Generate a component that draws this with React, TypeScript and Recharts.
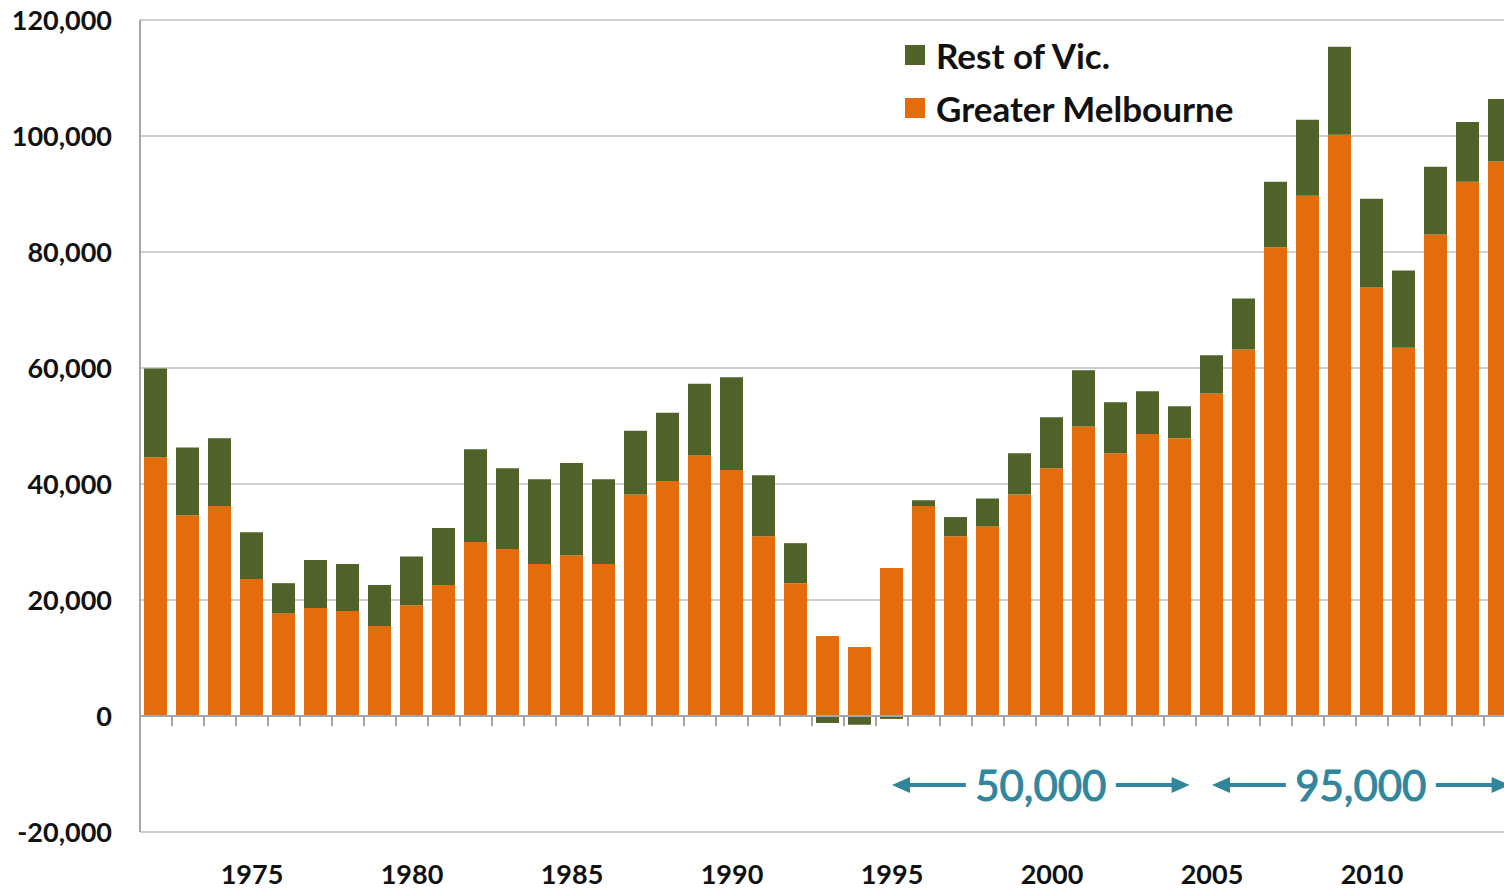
import React from 'react';
import { BarChart, Bar, XAxis, YAxis, CartesianGrid, Legend, ReferenceLine } from 'recharts';

const years = [
  1972, 1973, 1974, 1975, 1976, 1977, 1978, 1979, 1980, 1981,
  1982, 1983, 1984, 1985, 1986, 1987, 1988, 1989, 1990, 1991,
  1992, 1993, 1994, 1995, 1996, 1997, 1998, 1999, 2000, 2001,
  2002, 2003, 2004, 2005, 2006, 2007, 2008, 2009, 2010, 2011,
  2012, 2013, 2014,
];

const greaterMelbourne = [
  44600, 34600, 36200, 23600, 17700, 18600, 18100, 15500, 19100, 22600,
  30000, 28800, 26200, 27700, 26200, 38200, 40500, 44900, 42400, 31000,
  22900, 13800, 11900, 25500, 36200, 31000, 32700, 38200, 42700, 49900,
  45300, 48600, 47900, 55600, 63200, 80800, 89700, 100200, 73900, 63500,
  83000, 92100, 95600,
];

const restOfVic = [
  15300, 11700, 11700, 8100, 5200, 8300, 8100, 7100, 8400, 9800,
  16000, 13900, 14600, 15900, 14600, 11000, 11800, 12400, 16000, 10500,
  6900, -1200, -1500, -500, 1000, 3300, 4800, 7100, 8800, 9700,
  8800, 7400, 5500, 6600, 8800, 11300, 13100, 15200, 15300, 13300,
  11700, 10300, 10800,
];

const labelYears = [1975, 1980, 1985, 1990, 1995, 2000, 2005, 2010];
const yTicks = [-20000, 0, 20000, 40000, 60000, 80000, 100000, 120000];

// average annual growth annotations (year spans)
const spanFrom = [1995, 2005];
const spanTo = [2004.3, 2014.3];
const spanLabels = ['50,000', '95,000'];
const spanLevel = -11900;

const data = years.map((year, i) => ({
  year,
  melbourne: greaterMelbourne[i],
  rest: restOfVic[i],
}));

const ORANGE = '#E46C0A';
const GREEN = '#4F6228';
const TEAL = '#31869E';
const AXIS = '#A6A6A6';

const makeArrow = (label: string) => (props: any) => {
  const { x1, y1, x2 } = props;
  const cx = (x1 + x2) / 2;
  const gap = 75;
  const head = 18;
  const half = 8;
  return (
    <g>
      <line x1={x1 + head - 2} y1={y1} x2={cx - gap} y2={y1} stroke={TEAL} strokeWidth={4} />
      <line x1={cx + gap} y1={y1} x2={x2 - head + 2} y2={y1} stroke={TEAL} strokeWidth={4} />
      <polygon points={`${x1},${y1} ${x1 + head},${y1 - half} ${x1 + head},${y1 + half}`} fill={TEAL} />
      <polygon points={`${x2},${y1} ${x2 - head},${y1 - half} ${x2 - head},${y1 + half}`} fill={TEAL} />
      <text
        x={cx}
        y={y1}
        textAnchor="middle"
        dominantBaseline="central"
        fill={TEAL}
        stroke={TEAL}
        strokeWidth={1}
        fontSize={42}
        fontFamily="Lato, sans-serif"
      >
        {label}
      </text>
    </g>
  );
};

const renderLegend = (props: any) => {
  const items = [...(props.payload || [])].sort((a: any, b: any) =>
    a.dataKey === 'rest' ? -1 : b.dataKey === 'rest' ? 1 : 0
  );
  return (
    <div>
      {items.map((item: any) => (
        <div key={item.dataKey} style={{ height: 53, display: 'flex', alignItems: 'center' }}>
          <span style={{ width: 20, height: 20, background: item.color, marginRight: 11, display: 'inline-block' }} />
          <span style={{ fontFamily: 'Lato, sans-serif', fontWeight: 700, fontSize: 35, color: '#111' }}>
            {item.value}
          </span>
        </div>
      ))}
    </div>
  );
};

const tickStyle = { fill: '#111', fontSize: 27, fontWeight: 700, fontFamily: 'Lato, sans-serif' };

export default function App() {
  return (
    <div style={{ width: 1504, height: 893, overflow: 'hidden', position: 'relative', background: '#fff' }}>
      <style>{'body{margin:0;}'}</style>
      <BarChart
        width={1516}
        height={893}
        data={data}
        stackOffset="sign"
        margin={{ top: 20, right: 0, left: 0, bottom: 0 }}
      >
        <CartesianGrid vertical={false} stroke="#CFCFCF" strokeWidth={2} />
        <XAxis
          dataKey="year"
          type="number"
          domain={[1971.5, 2014.5]}
          ticks={labelYears}
          interval={0}
          axisLine={false}
          tickLine={false}
          tickSize={0}
          tickMargin={33}
          height={61}
          tick={tickStyle}
        />
        <YAxis
          domain={[-20000, 120000]}
          ticks={yTicks}
          interval={0}
          width={140}
          axisLine={{ stroke: AXIS, strokeWidth: 2 }}
          tickLine={false}
          tickSize={0}
          tickMargin={28}
          tick={tickStyle}
          tickFormatter={(v: number) => v.toLocaleString('en-US')}
        />
        <Legend
          layout="vertical"
          align="center"
          verticalAlign="middle"
          content={renderLegend}
          wrapperStyle={{ top: 28, left: 905, width: 420 }}
        />
        <Bar dataKey="melbourne" name="Greater Melbourne" stackId="a" fill={ORANGE} barSize={23} isAnimationActive={false} />
        <Bar dataKey="rest" name="Rest of Vic." stackId="a" fill={GREEN} barSize={23} isAnimationActive={false} />
        <ReferenceLine y={0} stroke={AXIS} strokeWidth={2} />
        {years.map((y) => (
          <ReferenceLine
            key={`t${y}`}
            segment={[{ x: y + 0.5, y: 0 }, { x: y + 0.5, y: -1750 }]}
            stroke={AXIS}
            strokeWidth={2}
          />
        ))}
        {spanLabels.map((label, i) => (
          <ReferenceLine
            key={label}
            segment={[{ x: spanFrom[i], y: spanLevel }, { x: spanTo[i], y: spanLevel }]}
            shape={makeArrow(label)}
          />
        ))}
      </BarChart>
    </div>
  );
}
